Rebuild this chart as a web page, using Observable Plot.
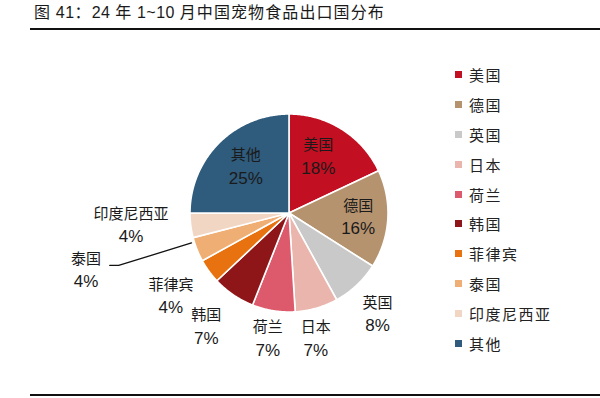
<!DOCTYPE html>
<html>
<head>
<meta charset="utf-8">
<script src="https://cdn.jsdelivr.net/npm/d3@7"></script>
<script src="https://cdn.jsdelivr.net/npm/@observablehq/plot@0.6"></script>
<style>
  html, body { margin: 0; padding: 0; background: #fff; }
  #wrap { position: relative; width: 600px; height: 398px; overflow: hidden; }
  #title { position: absolute; left: 34px; top: 2px; font-family: "Noto Sans CJK SC", sans-serif; font-size: 16px; letter-spacing: 1.1px; color: #1a1a1a; white-space: nowrap; line-height: 18px; }
  #title .num { font-family: "Liberation Sans", Arial, sans-serif; letter-spacing: 0.5px; }
  .rule { position: absolute; left: 30px; width: 570px; height: 2px; background: #111; }
  #legend { position: absolute; left: 455px; top: 60px; font-family: "Noto Sans CJK SC", sans-serif; font-size: 15px; color: #222; letter-spacing: 1.5px; }
  #legend .item { height: 29.8px; display: flex; align-items: center; white-space: nowrap; }
  #legend .sw { width: 7px; height: 7px; margin-right: 7px; flex: none; }
  #chart { position: absolute; left: 0; top: 0; }
</style>
</head>
<body>
<div id="wrap">
  <div id="chart"></div>
  <div id="title">图 <span class="num">41</span>：<span class="num">24</span> 年 <span class="num">1~10</span> 月中国宠物食品出口国分布</div>
  <div class="rule" style="top:28px"></div>
  <div class="rule" style="top:394px"></div>
  <div id="legend"></div>
</div>
<script>
// ---- data ----
const names = ["美国", "德国", "英国", "日本", "荷兰", "韩国", "菲律宾", "泰国", "印度尼西亚", "其他"];
const shares = [18, 16, 8, 7, 7, 7, 4, 4, 4, 25];
const colors = ["#C20F22", "#B6936F", "#C9C9C9", "#EAB5AC", "#DC5A6B", "#8E1619", "#E8720F", "#EFAE74", "#F1D6C3", "#2F5B7C"];

// ---- layout (label placement, in radius units and degree turns) ----
const labelR = {"美国": 0.64, "德国": 0.70, "英国": 1.36, "日本": 1.30, "荷兰": 1.29, "韩国": 1.42, "菲律宾": 1.46, "泰国": 2.13, "印度尼西亚": 1.60, "其他": 0.64};
const labelTurn = {"美国": -4.8, "德国": 0, "英国": 2.1, "日本": 4.2, "荷兰": 0.6, "韩国": 1.8, "菲律宾": 0.8, "泰国": 5.8, "印度尼西亚": 2.7, "其他": 2};
const leaderFor = "泰国";

const rad = d => d * Math.PI / 180;
let acc = 0;
const total = d3.sum(shares);
const slices = names.map((n, i) => {
  const a0 = acc / total * 360;
  acc += shares[i];
  const a1 = acc / total * 360;
  return {name: n, share: shares[i], a0, a1, mid: (a0 + a1) / 2};
});

const piePts = slices.flatMap(s => {
  const pts = [{name: s.name, x: 0, y: 0}];
  const n = Math.max(4, Math.ceil((s.a1 - s.a0) * 2));
  for (let k = 0; k <= n; k++) {
    const t = rad(s.a0 + (s.a1 - s.a0) * k / n);
    pts.push({name: s.name, x: Math.sin(t), y: Math.cos(t)});
  }
  return pts;
});

const labels = slices.map(s => {
  const t = rad(s.mid + labelTurn[s.name]);
  const r = labelR[s.name];
  return {name: s.name, pct: s.share + "%", x: r * Math.sin(t), y: r * Math.cos(t)};
});

const ls = slices.find(s => s.name === leaderFor);
const lt = rad(ls.mid + 4.5);
const leader = [
  {x: 1.03 * Math.sin(lt), y: 1.03 * Math.cos(lt)},
  {x: 1.80 * Math.sin(lt), y: 1.80 * Math.cos(lt)},
  {x: 1.80 * Math.sin(lt) - 0.09, y: 1.80 * Math.cos(lt)}
];

const cx = 288.5, cy = 212.5, R = 99;
const chart = Plot.plot({
  width: 600,
  height: 398,
  margin: 0,
  style: {background: "transparent", overflow: "visible"},
  x: {domain: [-1, 1], range: [cx - R, cx + R], axis: null},
  y: {domain: [-1, 1], range: [cy + R, cy - R], axis: null},
  color: {domain: names, range: colors},
  marks: [
    Plot.line(piePts, {x: "x", y: "y", z: "name", fill: "name", stroke: "white", strokeWidth: 1.6, curve: "linear-closed"}),
    Plot.line(leader, {x: "x", y: "y", stroke: "#111", strokeWidth: 1.3}),
    Plot.text(labels, {x: "x", y: "y", text: "name", dy: -11.5, fontSize: 15, fill: "#1a1a1a", fontFamily: "Noto Sans CJK SC, sans-serif", letterSpacing: 1}),
    Plot.text(labels, {x: "x", y: "y", text: "pct", dy: 11.5, fontSize: 17, fill: "#1a1a1a", fontFamily: "Liberation Sans, Arial, sans-serif"})
  ]
});
document.getElementById("chart").appendChild(chart);

const legend = document.getElementById("legend");
names.forEach((n, i) => {
  const row = document.createElement("div");
  row.className = "item";
  const sw = document.createElement("span");
  sw.className = "sw";
  sw.style.background = colors[i];
  const tx = document.createElement("span");
  tx.textContent = n;
  row.appendChild(sw);
  row.appendChild(tx);
  legend.appendChild(row);
});
</script>
</body>
</html>
